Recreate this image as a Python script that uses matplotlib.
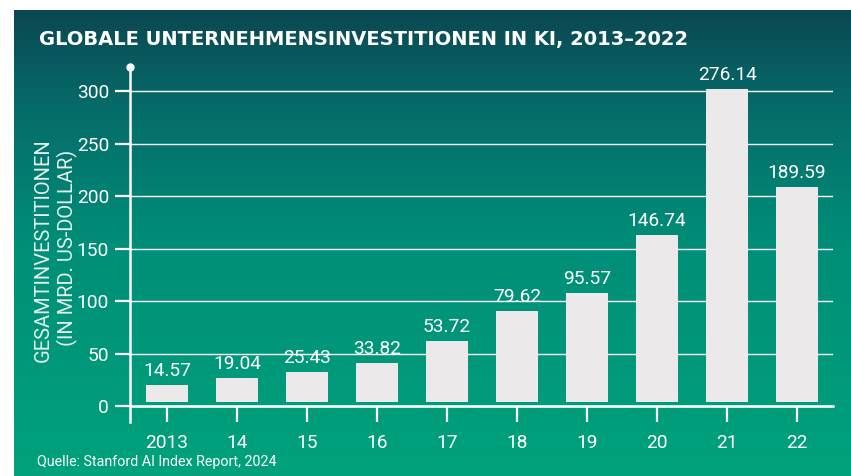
import numpy as np
import matplotlib
matplotlib.use("Agg")
import matplotlib.pyplot as plt
from matplotlib.colors import LinearSegmentedColormap

plt.rcParams['font.family'] = ['Roboto', 'DejaVu Sans']

years = ["2013", "14", "15", "16", "17", "18", "19", "20", "21", "22"]
values = [14.57, 19.04, 25.43, 33.82, 53.72, 79.62, 95.57, 146.74, 276.14, 189.59]
# bar tops as drawn in the original graphic (not scaled exactly to the labels)
bar_tops = [20.0, 26.7, 32.4, 41.0, 62.0, 90.5, 107.6, 163.0, 302.0, 208.6]
yticks = [0, 50, 100, 150, 200, 250, 300]

W, H = 851, 476
fig = plt.figure(figsize=(W / 100, H / 100), dpi=100)
fig.patch.set_facecolor("white")

# green gradient background panel
bg = fig.add_axes([14 / W, 0, 1 - 14 / W, 1 - 10 / H], zorder=-10)
grad = LinearSegmentedColormap.from_list(
    "bg", [(0.0, "#0b4752"), (0.2, "#066a68"), (0.5, "#008e78"), (1.0, "#00a27c")])
bg.imshow(np.linspace(0, 1, 256).reshape(-1, 1), aspect="auto", cmap=grad,
          extent=[0, 1, 0, 1], origin="upper")
bg.axis("off")

ax = fig.add_axes([130 / W, 1 - 422 / H, (833 - 130) / W, (422 - 67) / H])
ax.patch.set_alpha(0)
x = np.arange(len(years))
base = 3.8
ax.bar(x, np.array(bar_tops) - base, bottom=base, width=0.59,
       color="#ebe9ea", zorder=3)
for xi, top, v in zip(x, bar_tops, values):
    ax.text(xi, top + 4.5, f"{v:.2f}", ha="center", va="bottom",
            color="white", fontsize=13.8, zorder=4)

ax.set_xlim(-0.529, 9.514)
ax.set_ylim(-15.24, 322.9)
ax.set_xticks(x, years)
ax.set_yticks(yticks)
ax.grid(axis="y", color="white", lw=1.0, zorder=1)
ax.set_axisbelow(True)

for s in ["top", "right"]:
    ax.spines[s].set_visible(False)
ax.spines["bottom"].set_position(("data", 0))
ax.spines["bottom"].set_color("white")
ax.spines["bottom"].set_linewidth(1.8)
ax.spines["left"].set_color("white")
ax.spines["left"].set_linewidth(1.8)
ax.tick_params(axis="x", colors="white", length=11.5, width=1.6,
               pad=9.0, labelsize=13.8, direction="out")
ax.tick_params(axis="y", colors="white", length=10.8, width=1.6,
               pad=4.3, labelsize=13.8, direction="out")
ax.plot([0], [322.9], marker="o", ms=5, color="white", clip_on=False,
        transform=ax.get_yaxis_transform(), zorder=5)

fig.text(43 / W, 1 - 250 / H, "GESAMTINVESTITIONEN", rotation=90,
         ha="center", va="center", color="#e3f1ec", fontsize=14.5)
fig.text(67 / W, 1 - 248 / H, "(IN MRD. US-DOLLAR)", rotation=90,
         ha="center", va="center", color="#e3f1ec", fontsize=14.5)

fig.text(39 / W, 1 - 45 / H, "GLOBALE UNTERNEHMENSINVESTITIONEN IN KI, 2013\u20132022",
         ha="left", va="baseline", color="white", fontsize=14,
         fontweight="bold", family="DejaVu Sans")
fig.text(37 / W, 1 - 462 / H, "Quelle: Stanford AI Index Report, 2024",
         ha="left", va="center", color="white", fontsize=10.3)

fig.savefig("out.png", dpi=100)
